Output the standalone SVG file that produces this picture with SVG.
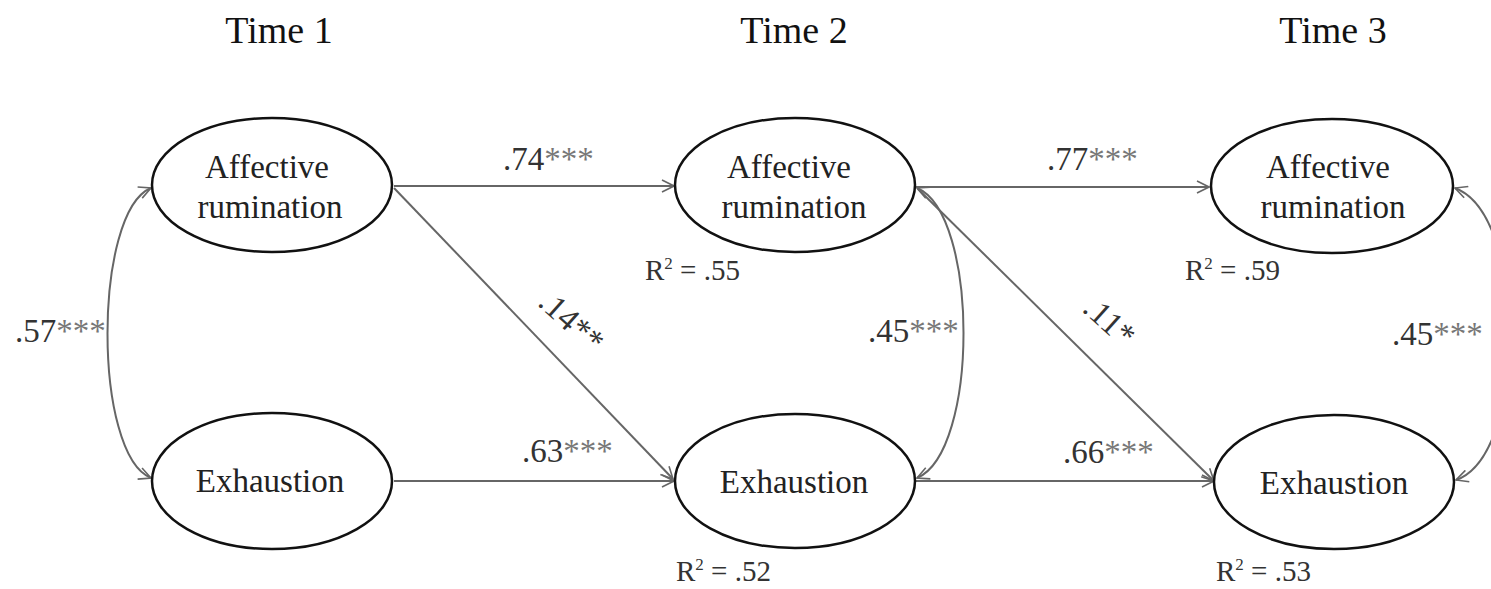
<svg xmlns="http://www.w3.org/2000/svg" width="1491" height="589" viewBox="0 0 1491 589">
<style>
  .node { fill: #fff; stroke: #111; stroke-width: 2.5; }
  .ntext { font-family: "Liberation Serif", "Times New Roman", serif; font-size: 33px; fill: #222; text-anchor: middle; }
  .head { font-family: "Liberation Serif", "Times New Roman", serif; font-size: 38px; fill: #111; text-anchor: middle; }
  .lab { font-family: "Liberation Serif", "Times New Roman", serif; font-size: 33px; fill: #333; }
  .ast { fill: #777; }
  .r2 { font-family: "Liberation Serif", "Times New Roman", serif; font-size: 29px; fill: #333; }
  .edge { fill: none; stroke: #666; stroke-width: 2; }
</style>
<defs>
  <marker id="arr" viewBox="0 0 14 14" refX="13" refY="7" markerWidth="14" markerHeight="14" markerUnits="userSpaceOnUse" orient="auto-start-reverse">
    <path d="M1,1 L13,7 L1,13" fill="none" stroke="#666" stroke-width="1.6"/>
  </marker>
</defs>

<rect width="1491" height="589" fill="#fff"/>

<g id="headings">
  <text class="head" x="279" y="43">Time 1</text>
  <text class="head" x="794" y="43">Time 2</text>
  <text class="head" x="1333" y="43">Time 3</text>
</g>

<g id="connectors">
  <line class="edge" x1="394" y1="186" x2="674" y2="186" marker-end="url(#arr)"/>
  <line class="edge" x1="394" y1="188" x2="673" y2="479" marker-end="url(#arr)"/>
  <line class="edge" x1="394" y1="481" x2="674" y2="481" marker-end="url(#arr)"/>
  <line class="edge" x1="916" y1="187" x2="1209" y2="187" marker-end="url(#arr)"/>
  <line class="edge" x1="918" y1="189" x2="1214" y2="481" marker-end="url(#arr)"/>
  <line class="edge" x1="916" y1="481" x2="1214" y2="481" marker-end="url(#arr)"/>
  <path class="edge" d="M151,188 C93,212 93,455 151,478" marker-start="url(#arr)" marker-end="url(#arr)"/>
  <path class="edge" d="M917,188 C979,214 979,452 917,478" marker-start="url(#arr)" marker-end="url(#arr)"/>
  <path class="edge" d="M1455,188 C1528,215 1528,455 1456,480" marker-start="url(#arr)" marker-end="url(#arr)"/>
</g>

<g id="t1-affective">
  <ellipse class="node" cx="272" cy="185" rx="120" ry="67"/>
  <text class="ntext" x="267" y="178">Affective</text>
  <text class="ntext" x="270" y="218">rumination</text>
</g>
<g id="t1-exhaustion">
  <ellipse class="node" cx="272" cy="481" rx="120" ry="68"/>
  <text class="ntext" x="270" y="492">Exhaustion</text>
</g>
<g id="t2-affective">
  <ellipse class="node" cx="795" cy="185" rx="120" ry="67"/>
  <text class="ntext" x="789" y="178">Affective</text>
  <text class="ntext" x="794" y="218">rumination</text>
</g>
<g id="t2-exhaustion">
  <ellipse class="node" cx="795" cy="481" rx="120" ry="67"/>
  <text class="ntext" x="794" y="493">Exhaustion</text>
</g>
<g id="t3-affective">
  <ellipse class="node" cx="1332" cy="186" rx="121" ry="67"/>
  <text class="ntext" x="1328" y="178">Affective</text>
  <text class="ntext" x="1333" y="218">rumination</text>
</g>
<g id="t3-exhaustion">
  <ellipse class="node" cx="1334" cy="482" rx="120" ry="67"/>
  <text class="ntext" x="1334" y="494">Exhaustion</text>
</g>

<g id="labels">
  <text class="lab" x="15" y="342">.57<tspan class="ast">***</tspan></text>
  <text class="lab" x="503" y="170">.74<tspan class="ast">***</tspan></text>
  <text class="lab" x="522" y="462">.63<tspan class="ast">***</tspan></text>
  <text class="lab" x="1047" y="170">.77<tspan class="ast">***</tspan></text>
  <text class="lab" x="1063" y="463">.66<tspan class="ast">***</tspan></text>
  <text class="lab" x="868" y="342">.45<tspan class="ast">***</tspan></text>
  <text class="lab" x="1392" y="345">.45<tspan class="ast">***</tspan></text>
  <text class="lab" transform="translate(571,322) rotate(42)" x="0" y="10" text-anchor="middle">.14**</text>
  <text class="lab" transform="translate(1109,322) rotate(42)" x="0" y="10" text-anchor="middle">.11*</text>
  <text class="r2" x="645" y="280">R<tspan font-size="17" dy="-11">2</tspan><tspan dy="11"> = .55</tspan></text>
  <text class="r2" x="1185" y="280">R<tspan font-size="17" dy="-11">2</tspan><tspan dy="11"> = .59</tspan></text>
  <text class="r2" x="676" y="581">R<tspan font-size="17" dy="-11">2</tspan><tspan dy="11"> = .52</tspan></text>
  <text class="r2" x="1216" y="581">R<tspan font-size="17" dy="-11">2</tspan><tspan dy="11"> = .53</tspan></text>
</g>
</svg>
